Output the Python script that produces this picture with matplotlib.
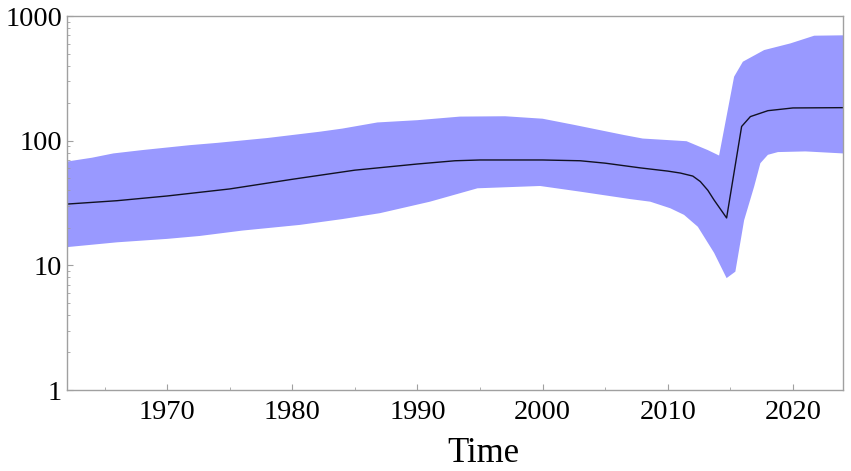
import numpy as np
import matplotlib
matplotlib.use("Agg")
import matplotlib.pyplot as plt
from matplotlib.ticker import LogLocator, FixedLocator, NullFormatter

plt.rcParams['font.family'] = ['Liberation Serif', 'DejaVu Serif']

# Median line
t_med = [1962, 1966, 1970, 1975, 1980, 1985, 1990, 1993, 1995, 2000, 2003, 2005,
         2007.8, 2010, 2011, 2012, 2012.6, 2013.2, 2013.7, 2014.7, 2015.9, 2016.6,
         2018, 2020, 2024]
v_med = [31, 33, 36, 41, 49, 58, 65, 69, 70, 70, 69, 66,
         60.5, 57, 55, 52, 47, 40, 33.4, 24, 130, 156,
         174, 183, 184]

# Upper bound of band
t_up = [1962, 1964, 1965.7, 1968, 1971.8, 1974, 1978, 1982.2, 1984, 1986.8, 1990,
        1993.4, 1997, 2000, 2002.5, 2006.5, 2008, 2011.5, 2013.2, 2014.1, 2015.3,
        2016, 2017.7, 2019.8, 2021.7, 2024]
v_up = [68, 73, 79, 84, 92, 96, 105, 118, 125, 140, 146,
        156, 157, 150, 134, 111, 104, 99, 84, 76, 326,
        430, 533, 603, 695, 700]

# Lower bound of band
t_lo = [1962, 1966, 1970, 1972.6, 1976, 1980.6, 1984, 1987, 1991, 1994.8, 1999.8,
        2003, 2007, 2008.6, 2010.2, 2011.3, 2012.4, 2013.7, 2014.7, 2015.4, 2016.1,
        2016.9, 2017.4, 2018, 2018.8, 2021, 2024]
v_lo = [14, 15.3, 16.3, 17.2, 19, 21.1, 23.5, 26.2, 32.4, 41.5, 43.3,
        39, 34, 32.4, 28.7, 25.4, 20.4, 12.6, 7.9, 8.9, 23,
        42.8, 66, 77, 81, 82, 79]

x_ticks = [1970, 1980, 1990, 2000, 2010, 2020]
y_ticks = [1, 10, 100, 1000]
y_labels = ["1", "10", "100", "1000"]

fig = plt.figure(figsize=(8.51, 4.71), dpi=100)
ax = fig.add_axes([67/851, 1-390/471, (843-67)/851, (390-16)/471])

poly_x = np.concatenate([t_up, t_lo[::-1]])
poly_y = np.concatenate([v_up, v_lo[::-1]])
ax.fill(poly_x, poly_y, color='#9999ff', linewidth=0)
ax.plot(t_med, v_med, color='#111122', linewidth=1.0)

ax.set_yscale('log')
ax.set_xlim(1962, 2024)
ax.set_ylim(1, 1000)

ax.set_yticks(y_ticks)
ax.set_yticklabels(y_labels)
ax.yaxis.set_minor_locator(LogLocator(base=10, subs=np.arange(2, 10)))
ax.yaxis.set_minor_formatter(NullFormatter())
ax.set_xticks(x_ticks)
ax.set_xticklabels([str(x) for x in x_ticks])
ax.xaxis.set_minor_locator(FixedLocator([1965, 1975, 1985, 1995, 2005, 2015]))

for s in ax.spines.values():
    s.set_color('#a0a0a0')
    s.set_linewidth(1.0)

ax.tick_params(which='both', direction='in', color='#a0a0a0', top=False, right=False,
               labelsize=20.5, labelcolor='black')
ax.tick_params(which='major', length=4, width=0.8)
ax.tick_params(which='minor', length=2.5, width=0.6)
ax.tick_params(axis='y', pad=3.5)
ax.tick_params(axis='x', pad=7)

ax.set_xlabel('Time', fontsize=25, labelpad=0)
ax.xaxis.set_label_coords((483-67)/776, -0.125)

fig.savefig('out.png', dpi=100)
